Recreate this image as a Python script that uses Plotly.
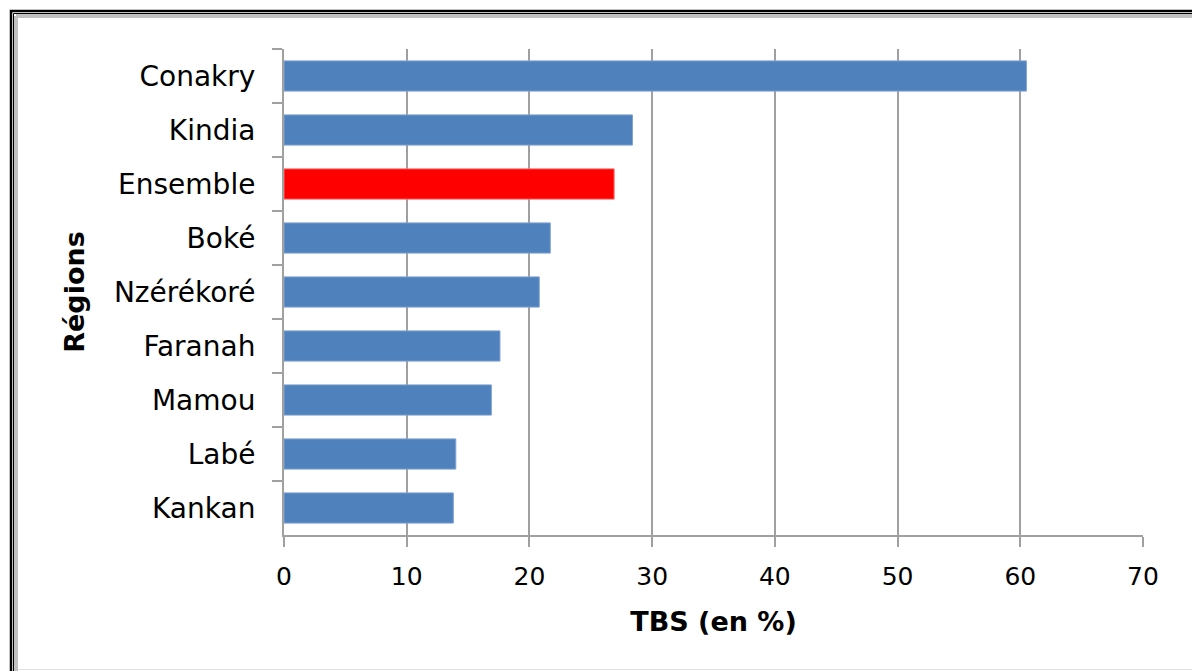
import plotly.graph_objects as go

regions = ["Conakry", "Kindia", "Ensemble", "Boké", "Nzérékoré", "Faranah", "Mamou", "Labé", "Kankan"]
tbs = [60.5, 28.4, 26.9, 21.7, 20.8, 17.6, 16.9, 14.0, 13.8]
x_ticks = [0, 10, 20, 30, 40, 50, 60, 70]

W, H = 1192, 671
L, R, T, B = 284, 49, 49, 136
PW, PH = W - L - R, H - T - B

def px(x):
    return (x - L) / PW

def py(y):
    return (H - B - y) / PH

colors = ["#FF0000" if r == "Ensemble" else "#4F81BD" for r in regions]
edges = ["#FF6666" if r == "Ensemble" else "#7FA3D3" for r in regions]

fig = go.Figure(go.Bar(
    x=tbs, y=regions, orientation="h",
    marker=dict(color=colors, line=dict(color=edges, width=1)),
    hoverinfo="x+y",
))

grid = "#A0A0A0"
font = "DejaVu Sans"

fig.update_layout(
    width=W, height=H,
    margin=dict(l=L, r=R, t=T, b=B, autoexpand=False),
    paper_bgcolor="white", plot_bgcolor="white",
    bargap=0.44, showlegend=False,
    font=dict(family=font, color="black"),
    xaxis=dict(
        range=[0, 70], tickvals=x_ticks, showgrid=True, gridcolor=grid, gridwidth=2,
        showline=True, linecolor=grid, linewidth=2, ticks="outside", ticklen=10,
        tickcolor=grid, tickwidth=2, zeroline=False, automargin=False,
        tickfont=dict(family=font, size=25, color="black"), ticklabelstandoff=8,
        title=dict(text="<b>TBS (en %)</b>", font=dict(family=font, size=27, color="black"), standoff=22),
    ),
    yaxis=dict(
        autorange="reversed", type="category", categoryorder="array", categoryarray=regions,
        showgrid=False, showline=True, linecolor=grid, linewidth=2,
        ticks="outside", tickson="boundaries", ticklen=10, tickcolor=grid, tickwidth=2,
        automargin=False, tickfont=dict(family=font, size=28, color="black"), ticklabelstandoff=21,
        title=dict(text="<b>Régions</b>", font=dict(family=font, size=27, color="black"), standoff=21),
    ),
)

shapes = []
shapes.append(dict(type="rect", xref="paper", yref="paper",
                   x0=px(11), y0=py(11), x1=px(1210), y1=py(700),
                   line=dict(color="black", width=2.5)))
shapes.append(dict(type="rect", xref="paper", yref="paper",
                   x0=px(13.5), y0=py(13.5), x1=px(1210), y1=py(700),
                   line=dict(color="black", width=1)))
shapes.append(dict(type="line", xref="paper", yref="paper",
                   x0=px(16), y0=py(16), x1=px(1200), y1=py(16),
                   line=dict(color="#C0C0C0", width=4)))
shapes.append(dict(type="line", xref="paper", yref="paper",
                   x0=px(16), y0=py(16), x1=px(16), y1=py(700),
                   line=dict(color="#C0C0C0", width=4)))
shapes.append(dict(type="line", xref="paper", yref="paper",
                   x0=px(18), y0=py(669.5), x1=px(1200), y1=py(669.5),
                   line=dict(color="#E0E0E0", width=1)))
fig.update_layout(shapes=shapes)

fig.write_html("out.html")
